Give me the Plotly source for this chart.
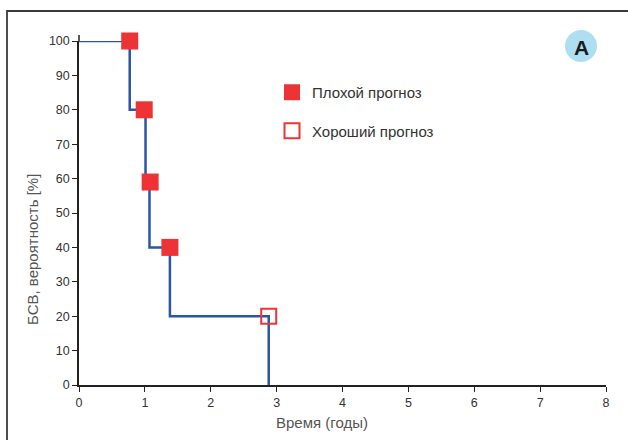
import plotly.graph_objects as go

# Kaplan-Meier step curve
km_time = [0, 0.77, 1.01, 1.07, 1.38, 2.88]
km_surv = [100, 80, 60, 40, 20, 0]

# Event markers
poor_time = [0.77, 0.99, 1.08, 1.38]
poor_surv = [100, 80, 59, 40]
good_time = [2.88]
good_surv = [20]

x_ticks = [0, 1, 2, 3, 4, 5, 6, 7, 8]
y_ticks = [0, 10, 20, 30, 40, 50, 60, 70, 80, 90, 100]

RED = "#ee3337"
BLUE = "#2b55a6"
FONT = "Liberation Sans, Arial, sans-serif"

L, R, T, B = 79, 22, 41, 55
W, H = 628, 440
PW, PH = W - L - R, H - T - B


def px(x):
    return (x - L) / PW


def py(y):
    return (H - B - y) / PH


fig = go.Figure()
fig.add_trace(go.Scatter(x=km_time, y=km_surv, mode="lines", line=dict(color=BLUE, width=2.5, shape="hv"),
                         showlegend=False, cliponaxis=False, hoverinfo="skip"))
fig.add_trace(go.Scatter(x=poor_time, y=poor_surv, mode="markers", name="Плохой прогноз",
                         legendgroup="a",
                         marker=dict(symbol="square", size=17, color=RED, line=dict(width=0)),
                         cliponaxis=False))
fig.add_trace(go.Scatter(x=good_time, y=good_surv, mode="markers", name="Хороший прогноз",
                         legendgroup="b",
                         marker=dict(symbol="square-open", size=15, color=RED, line=dict(width=2, color=RED)),
                         cliponaxis=False))

fig.update_layout(
    width=W, height=H,
    margin=dict(l=L, r=R, t=T, b=B),
    paper_bgcolor="white", plot_bgcolor="white",
    font=dict(family=FONT, size=12, color="#333"),
    legend=dict(x=px(272), y=py(76), xanchor="left", yanchor="top", bgcolor="rgba(0,0,0,0)",
                font=dict(size=15, color="#333"), tracegroupgap=16, traceorder="grouped",
                itemsizing="trace"),
    xaxis=dict(range=[0, 8], tickvals=x_ticks, showline=True, linecolor="#222", linewidth=1.5,
               ticks="outside", ticklen=5, tickcolor="#222", showgrid=False, zeroline=False,
               tickfont=dict(size=12.5, color="#333")),
    yaxis=dict(range=[0, 100], tickvals=y_ticks, showline=True, linecolor="#222", linewidth=1.5,
               ticks="outside", ticklen=5, tickcolor="#222", showgrid=False, zeroline=False,
               tickfont=dict(size=12.5, color="#333")),
    shapes=[
        dict(type="rect", xref="paper", yref="paper", x0=px(7), x1=px(640), y0=py(450), y1=py(11),
             line=dict(color="#3a3a3a", width=1.8), fillcolor="rgba(0,0,0,0)", layer="below"),
        dict(type="line", xref="paper", yref="paper", x0=0, x1=0, y0=1, y1=py(35),
             line=dict(color="#222", width=1.5)),
        dict(type="circle", xref="paper", yref="paper", x0=px(565), x1=px(597),
             y0=py(62), y1=py(30), fillcolor="#aedff0", line=dict(width=0)),
    ],
    annotations=[
        dict(text="<b>A</b>", xref="paper", yref="paper", x=px(581), y=py(47),
             showarrow=False, font=dict(size=21, color="#1a1a1a", family=FONT),
             xanchor="center", yanchor="middle"),
        dict(text="Время (годы)", xref="paper", yref="paper", x=px(322), y=py(422),
             showarrow=False, font=dict(size=15, color="#555"), xanchor="center", yanchor="middle"),
        dict(text="БСВ, вероятность [%]", xref="paper", yref="paper", x=px(32), y=py(250),
             showarrow=False, textangle=-90, font=dict(size=15, color="#555"),
             xanchor="center", yanchor="middle"),
    ],
)

fig.write_html("out.html", config={"displayModeBar": False},
               post_script="document.body.style.margin='0';")
